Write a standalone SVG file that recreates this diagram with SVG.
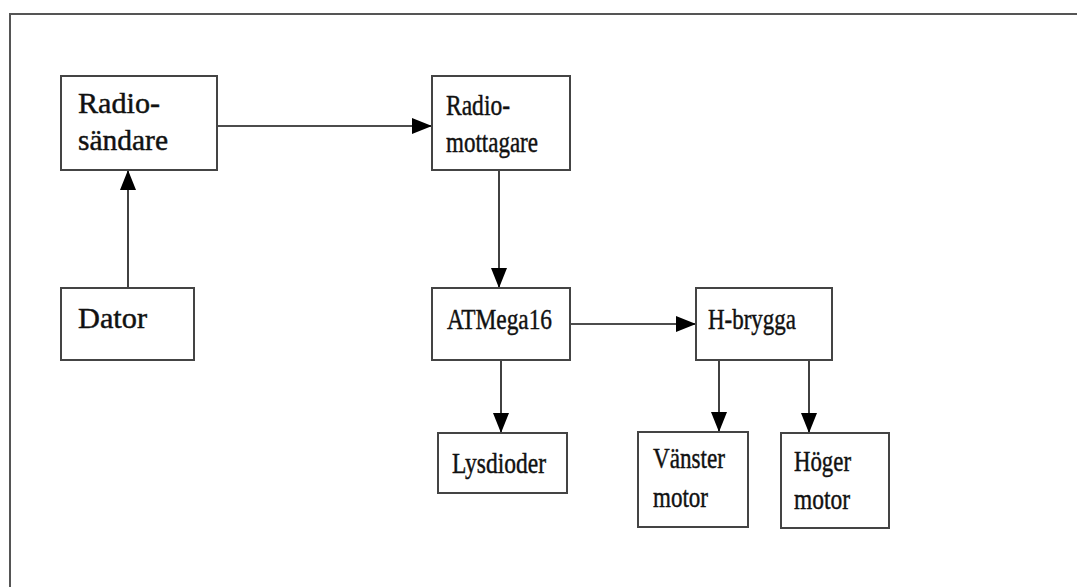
<svg xmlns="http://www.w3.org/2000/svg" width="1077" height="587" viewBox="0 0 1077 587">
<style>
.box{fill:#fff;stroke:#444;stroke-width:2}
.t{font-family:"Liberation Serif","Times New Roman",serif;font-size:30px;fill:#111;stroke:#111;stroke-width:0.45}
.c{stroke:#111;stroke-width:1.6;fill:none;marker-end:url(#ah)}
</style>
<defs>
<marker id="ah" viewBox="0 0 20 16" refX="20" refY="8" markerWidth="20" markerHeight="16" markerUnits="userSpaceOnUse" orient="auto">
<path d="M0,0 L20,8 L0,16 z" fill="#000"/>
</marker>
</defs>
<rect width="1077" height="587" fill="#fff"/>
<path d="M10,600 L10,14 L1090,14" fill="none" stroke="#555" stroke-width="2"/>
<g id="connectors">
<line class="c" x1="217" y1="126" x2="432" y2="126"/>
<line class="c" x1="128" y1="288" x2="128" y2="170"/>
<line class="c" x1="499" y1="170" x2="499" y2="288"/>
<line class="c" x1="570" y1="324" x2="696" y2="324"/>
<line class="c" x1="501" y1="360" x2="501" y2="433"/>
<line class="c" x1="719" y1="360" x2="719" y2="432"/>
<line class="c" x1="809" y1="360" x2="809" y2="433"/>
</g>
<g id="radiosandare">
<rect class="box" x="61" y="76" width="156" height="94"/>
<text class="t" x="78" y="113" textLength="82" lengthAdjust="spacingAndGlyphs">Radio-</text>
<text class="t" x="78" y="150" textLength="90" lengthAdjust="spacingAndGlyphs">sändare</text>
</g>
<g id="radiomottagare">
<rect class="box" x="432" y="76" width="138" height="94"/>
<text class="t" x="446" y="115" textLength="64" lengthAdjust="spacingAndGlyphs">Radio-</text>
<text class="t" x="446" y="152" textLength="92" lengthAdjust="spacingAndGlyphs">mottagare</text>
</g>
<g id="dator">
<rect class="box" x="61" y="288" width="133" height="72"/>
<text class="t" x="78" y="328" textLength="69" lengthAdjust="spacingAndGlyphs">Dator</text>
</g>
<g id="atmega16">
<rect class="box" x="432" y="288" width="138" height="72"/>
<text class="t" x="447" y="329" textLength="105" lengthAdjust="spacingAndGlyphs">ATMega16</text>
</g>
<g id="hbrygga">
<rect class="box" x="696" y="288" width="136" height="72"/>
<text class="t" x="708" y="329" textLength="88" lengthAdjust="spacingAndGlyphs">H-brygga</text>
</g>
<g id="lysdioder">
<rect class="box" x="438" y="433" width="129" height="60"/>
<text class="t" x="452" y="473" textLength="94" lengthAdjust="spacingAndGlyphs">Lysdioder</text>
</g>
<g id="vanstermotor">
<rect class="box" x="638" y="432" width="110" height="95"/>
<text class="t" x="653" y="468" textLength="72" lengthAdjust="spacingAndGlyphs">Vänster</text>
<text class="t" x="653" y="507" textLength="55" lengthAdjust="spacingAndGlyphs">motor</text>
</g>
<g id="hogermotor">
<rect class="box" x="781" y="433" width="108" height="95"/>
<text class="t" x="794" y="471" textLength="57" lengthAdjust="spacingAndGlyphs">Höger</text>
<text class="t" x="794" y="509" textLength="56" lengthAdjust="spacingAndGlyphs">motor</text>
</g>
</svg>
